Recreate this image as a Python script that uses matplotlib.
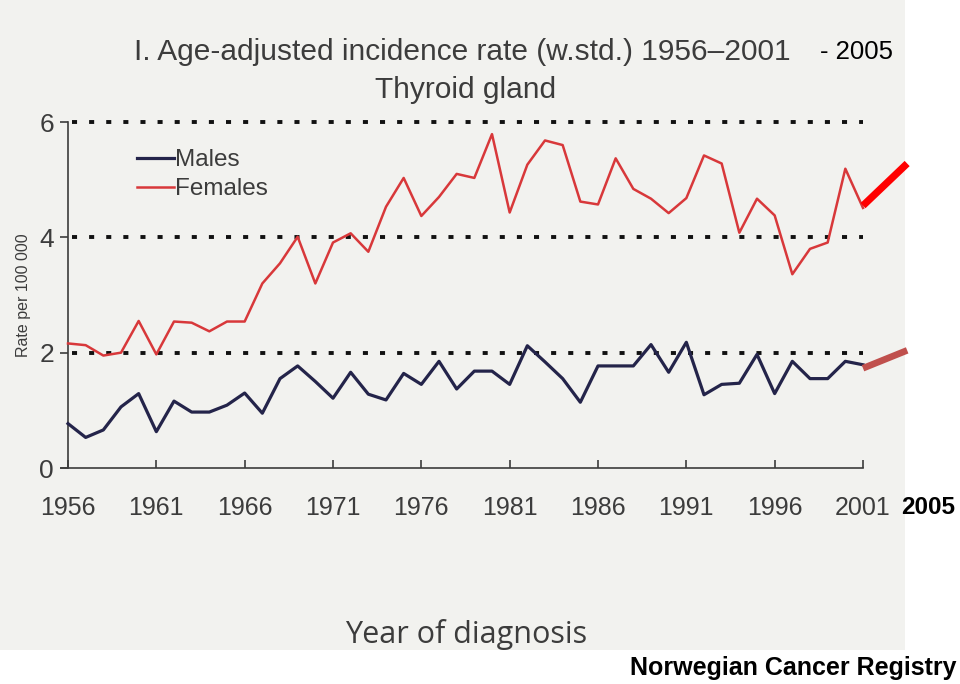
import matplotlib
matplotlib.use("Agg")
import matplotlib.pyplot as plt
from matplotlib import font_manager

years = list(range(1956, 2002))
males = [0.77, 0.53, 0.66, 1.06, 1.29, 0.63, 1.16, 0.97, 0.97, 1.09,
         1.30, 0.95, 1.55, 1.77, 1.50, 1.21, 1.66, 1.28, 1.18, 1.64,
         1.45, 1.85, 1.37, 1.68, 1.68, 1.45, 2.12, 1.84, 1.55, 1.14,
         1.77, 1.77, 1.77, 2.14, 1.66, 2.18, 1.27, 1.45, 1.47, 1.97,
         1.29, 1.85, 1.55, 1.55, 1.85, 1.79]
females = [2.16, 2.13, 1.95, 2.00, 2.55, 1.97, 2.54, 2.52, 2.37, 2.54,
           2.54, 3.20, 3.55, 4.01, 3.20, 3.91, 4.07, 3.75, 4.53, 5.03,
           4.37, 4.70, 5.10, 5.03, 5.79, 4.43, 5.26, 5.68, 5.60, 4.62,
           4.57, 5.37, 4.84, 4.67, 4.42, 4.68, 5.42, 5.28, 4.08, 4.67,
           4.38, 3.36, 3.80, 3.91, 5.19, 4.51]

ext_years = [2001, 2003.5]
ext_females = [4.55, 5.28]
ext_males = [1.73, 2.04]

xticks = [1956, 1961, 1966, 1971, 1976, 1981, 1986, 1991, 1996, 2001]
yticks = [0, 2, 4, 6]
grid_levels = [2, 4, 6]

avail = {f.name for f in font_manager.fontManager.ttflist}
narrow = "Liberation Sans Narrow" if "Liberation Sans Narrow" in avail else "Liberation Sans"

gray = "#3c3c3c"
fig = plt.figure(figsize=(9.6, 6.84), dpi=100)
fig.patch.set_facecolor("white")

bg = fig.add_axes([0, 1 - 650 / 684, 905 / 960, 650 / 684], zorder=-5)
bg.set_facecolor("#f2f2ef")
bg.set_xticks([])
bg.set_yticks([])
for s in bg.spines.values():
    s.set_visible(False)

ax = fig.add_axes([68 / 960, 1 - 468 / 684, 795 / 960, 346 / 684], zorder=1)
ax.set_facecolor("none")
ax.set_xlim(1956, 2001)
ax.set_ylim(0, 6)

for lv in grid_levels:
    ax.plot([1956.2, 2001], [lv, lv], color="#111111", lw=2.8,
            linestyle=(0, (1.3, 3.1)), dash_capstyle="butt", zorder=1, clip_on=False)

ax.plot(years, males, color="#24244a", lw=2.3, label="Males", zorder=3, clip_on=False)
ax.plot(years, females, color="#d8383a", lw=1.8, label="Females", zorder=3, clip_on=False)
ax.plot(ext_years, ext_females, color="#ff0000", lw=5.2, solid_capstyle="butt",
        zorder=4, clip_on=False)
ax.plot(ext_years, ext_males, color="#c0504d", lw=4.8, solid_capstyle="butt",
        zorder=4, clip_on=False)

for s in ["top", "right"]:
    ax.spines[s].set_visible(False)
for s in ["left", "bottom"]:
    ax.spines[s].set_color(gray)
    ax.spines[s].set_linewidth(1.2)
ax.spines["bottom"].set_bounds(1955.6, 2001)

ax.set_xticks(xticks)
ax.set_xticklabels([str(x) for x in xticks], fontfamily=narrow, fontsize=18, color=gray)
ax.set_yticks(yticks)
ax.set_yticklabels([str(y) for y in yticks], fontfamily=narrow, fontsize=19, color=gray)
ax.tick_params(axis="x", direction="in", length=6, width=1.2, color=gray, pad=20)
ax.tick_params(axis="y", direction="out", length=6, width=1.2, color=gray, pad=4)

ax.set_ylabel("Rate per 100 000", fontfamily="Liberation Sans", fontsize=11.5, color=gray,
              labelpad=6)

leg = ax.legend(loc="upper left", bbox_to_anchor=(0.075, 0.95), frameon=False,
                prop={"family": narrow, "size": 17.5}, handlelength=1.5,
                handletextpad=0.05, labelspacing=0.3, borderaxespad=0)
for t in leg.get_texts():
    t.set_color(gray)

fig.text(462 / 960, 1 - 52 / 684, "I. Age-adjusted incidence rate (w.std.) 1956\u20132001",
         ha="center", va="center", fontfamily=narrow, fontsize=21.5, color=gray)
fig.text(466 / 960, 1 - 90 / 684, "Thyroid gland", ha="center", va="center",
         fontfamily=narrow, fontsize=21.5, color=gray)
fig.text(856 / 960, 1 - 52 / 684, "- 2005", ha="center", va="center",
         fontfamily="Liberation Sans", fontsize=18.5, color="black")
fig.text(928 / 960, 1 - 507 / 684, "2005", ha="center", va="center",
         fontfamily="Liberation Sans", fontsize=17.5, fontweight="bold", color="black")
fig.text(466 / 960, 1 - 635 / 684, "Year of diagnosis", ha="center", va="center",
         fontfamily="Open Sans", fontsize=22, color=gray)
fig.text(957 / 960, 1 - 668 / 684, "Norwegian Cancer Registry", ha="right", va="center",
         fontfamily="Liberation Sans", fontsize=18, fontweight="bold", color="black")

fig.savefig("out.png", dpi=100)
